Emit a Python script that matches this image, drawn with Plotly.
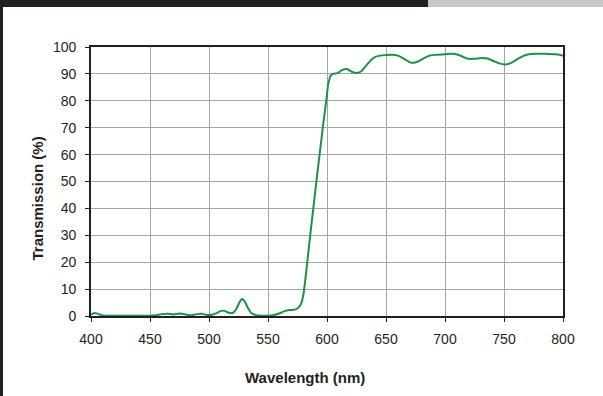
import plotly.graph_objects as go

# Filter transmission spectrum (long-pass, edge near 590 nm)
wavelength_nm = [
    400, 403, 406, 410, 420, 430, 440, 450, 455, 460, 465, 470, 475, 480, 485,
    490, 494, 498, 502, 506, 510, 513, 517, 520, 523, 526, 528, 530, 533, 536,
    540, 545, 550, 555, 560, 564, 568, 572, 575, 578, 580, 582, 585, 588, 591,
    594, 597, 599.5, 601, 603, 605, 609, 613, 617, 621, 625, 629, 633, 637, 641,
    645, 650, 655, 660, 665, 670, 673, 677, 682, 687, 692, 700, 706, 711, 716,
    720, 725, 731, 736, 741, 746, 751, 756, 761, 766, 771, 777, 785, 792, 797,
    800,
]
transmission_pct = [
    0.5, 1.1, 0.8, 0.2, 0.1, 0.1, 0.1, 0.1, 0.3, 0.7, 0.8, 0.6, 0.9, 0.6, 0.3,
    0.7, 0.8, 0.4, 0.4, 1.0, 1.9, 1.9, 1.2, 1.1, 2.5, 5.2, 6.3, 5.6, 3.0, 1.0,
    0.3, 0.1, 0.1, 0.4, 1.0, 1.8, 2.2, 2.3, 2.8, 4.5, 8.0, 15.0, 27.0, 38.5, 50.0,
    61.0, 72.0, 80.5, 86.0, 89.2, 90.0, 90.3, 91.5, 91.8, 90.8, 90.3, 91.0, 93.0, 95.0, 96.3,
    96.8, 97.0, 97.1, 96.8, 95.7, 94.4, 94.1, 94.6, 95.8, 96.8, 97.1, 97.3, 97.5, 97.1, 96.2,
    95.6, 95.6, 95.9, 95.7, 94.8, 93.9, 93.5, 94.1, 95.4, 96.6, 97.3, 97.5, 97.5, 97.3, 97.1,
    96.7,
]

x_ticks = [400, 450, 500, 550, 600, 650, 700, 750, 800]
y_ticks = [0, 10, 20, 30, 40, 50, 60, 70, 80, 90, 100]

INK = "#231f20"
FONT = "Liberation Sans, Arial, Helvetica, sans-serif"

fig = go.Figure()
fig.add_trace(go.Scatter(
    x=wavelength_nm,
    y=transmission_pct,
    mode="lines",
    line=dict(color="#1e9148", width=2, shape="spline", smoothing=0.8),
    hoverinfo="x+y",
    showlegend=False,
))

axis_common = dict(
    showline=True,
    linecolor=INK,
    linewidth=1.6,
    mirror=True,
    showgrid=True,
    gridcolor="#a6a6a6",
    gridwidth=1,
    zeroline=False,
    ticks="outside",
    ticklen=4,
    tickwidth=1.2,
    tickcolor=INK,
    tickfont=dict(family=FONT, size=14, color=INK),
)

fig.update_xaxes(
    range=[400, 800],
    tickvals=x_ticks,
    ticktext=[str(v) for v in x_ticks],
    ticklabelstandoff=5,
    **axis_common,
)
fig.update_yaxes(
    range=[0, 100],
    tickvals=y_ticks,
    ticktext=[str(v) for v in y_ticks],
    ticklabelstandoff=6,
    **axis_common,
)

# Axis titles
fig.add_annotation(
    text="<b>Wavelength (nm)</b>", xref="paper", yref="paper",
    x=(305 - 91) / 472, y=(316 - 377) / 269,
    xanchor="center", yanchor="middle", showarrow=False,
    font=dict(family=FONT, size=15, color=INK),
)
fig.add_annotation(
    text="<b>Transmission (%)</b>", xref="paper", yref="paper",
    x=(36.5 - 91) / 472, y=(316 - 199) / 269, textangle=-90,
    xanchor="center", yanchor="middle", showarrow=False,
    font=dict(family=FONT, size=15, color=INK),
)

# Page frame bars around the figure
px_x = lambda px: (px - 91) / 472
px_y = lambda py: (316 - py) / 269
fig.add_shape(type="rect", xref="paper", yref="paper", layer="above",
              x0=px_x(0), x1=px_x(428), y0=px_y(7), y1=px_y(0),
              fillcolor=INK, line_width=0)
fig.add_shape(type="rect", xref="paper", yref="paper", layer="above",
              x0=px_x(428), x1=px_x(603), y0=px_y(7), y1=px_y(0),
              fillcolor="#c7c8ca", line_width=0)
fig.add_shape(type="rect", xref="paper", yref="paper", layer="above",
              x0=px_x(0), x1=px_x(3), y0=px_y(396), y1=px_y(0),
              fillcolor=INK, line_width=0)

fig.update_layout(
    width=603,
    height=396,
    margin=dict(l=91, r=40, t=47, b=80),
    paper_bgcolor="white",
    plot_bgcolor="white",
    font=dict(family=FONT, color=INK),
)

fig.write_html("out.html")
